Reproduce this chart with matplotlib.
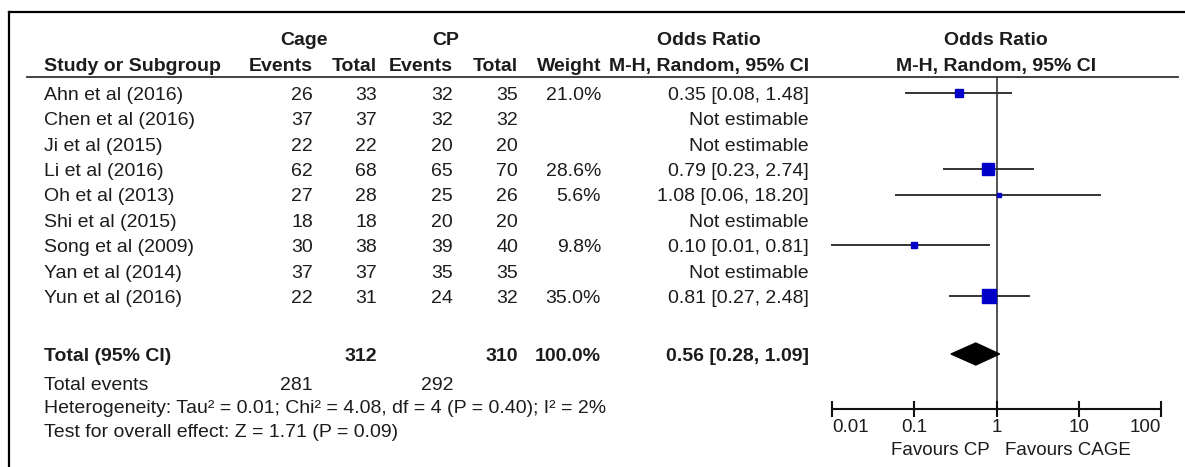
import numpy as np
import matplotlib
matplotlib.use("Agg")
import matplotlib.pyplot as plt
from matplotlib.lines import Line2D
from matplotlib.patches import Polygon

plt.rcParams['font.family'] = ['Liberation Sans', 'DejaVu Sans']

# ---------------- data ----------------
studies = ["Ahn et al (2016)", "Chen et al (2016)", "Ji et al (2015)", "Li et al (2016)",
           "Oh et al (2013)", "Shi et al (2015)", "Song et al (2009)", "Yan et al (2014)",
           "Yun et al (2016)"]
cage_events = [26, 37, 22, 62, 27, 18, 30, 37, 22]
cage_total = [33, 37, 22, 68, 28, 18, 38, 37, 31]
cp_events = [32, 32, 20, 65, 25, 20, 39, 35, 24]
cp_total = [35, 32, 20, 70, 26, 20, 40, 35, 32]
weights = [21.0, None, None, 28.6, 5.6, None, 9.8, None, 35.0]
or_est = [0.35, None, None, 0.79, 1.08, None, 0.10, None, 0.81]
or_lo = [0.08, None, None, 0.23, 0.06, None, 0.01, None, 0.27]
or_hi = [1.48, None, None, 2.74, 18.20, None, 0.81, None, 2.48]

total_cage = 312
total_cp = 310
total_weight = 100.0
total_or = [0.56, 0.28, 1.09]
events_cage = 281
events_cp = 292
heterogeneity = "Heterogeneity: Tau\u00b2 = 0.01; Chi\u00b2 = 4.08, df = 4 (P = 0.40); I\u00b2 = 2%"
overall = "Test for overall effect: Z = 1.71 (P = 0.09)"
x_ticks = [0.01, 0.1, 1, 10, 100]
x_tick_labels = ["0.01", "0.1", "1", "10", "100"]

# ---------------- layout ----------------
W, H = 1185, 467
fig = plt.figure(figsize=(W / 100, H / 100), dpi=100)
fig.patch.set_facecolor('white')

FS = 14.0
TXT = '#1c1c1c'


def fx(px):
    return px / W


def fy(py):
    return 1 - py / H


def put(x, y, s, ha='left', bold=False, color=TXT, fs=FS):
    # y = cap-centre in pixels; place baseline below it
    fig.text(fx(x), fy(y + 6.9), s, ha=ha, va='baseline', fontsize=fs,
             fontweight='bold' if bold else 'normal', color=color)


# frame
fig.add_artist(Line2D([fx(9), fx(1185)], [fy(12), fy(12)], color='black', lw=1.6))
fig.add_artist(Line2D([fx(9), fx(9)], [fy(12), fy(467)], color='black', lw=1.6))
# header underline
fig.add_artist(Line2D([fx(27), fx(1178)], [fy(77), fy(77)], color='#333333', lw=1.3))

# column anchors (right edges)
X_NAME = 44
X_CE, X_CT, X_PE, X_PT, X_W, X_OR = 313, 377, 453, 518, 601, 809
X_C_MID, X_P_MID = 304, 446
X_OR_MID = 709
X_PLOT_MID = 996

Y_H1, Y_H2 = 38, 64
# headers
put(X_C_MID, Y_H1, "Cage", ha='center', bold=True)
put(X_P_MID, Y_H1, "CP", ha='center', bold=True)
put(X_OR_MID, Y_H1, "Odds Ratio", ha='center', bold=True)
put(X_PLOT_MID, Y_H1, "Odds Ratio", ha='center', bold=True)
put(X_NAME, Y_H2, "Study or Subgroup", bold=True)
put(X_CE, Y_H2, "Events", ha='right', bold=True)
put(X_CT, Y_H2, "Total", ha='right', bold=True)
put(X_PE, Y_H2, "Events", ha='right', bold=True)
put(X_PT, Y_H2, "Total", ha='right', bold=True)
put(X_W, Y_H2, "Weight", ha='right', bold=True)
put(X_OR_MID, Y_H2, "M-H, Random, 95% CI", ha='center', bold=True)
put(X_PLOT_MID, Y_H2, "M-H, Random, 95% CI", ha='center', bold=True)

ROW0, DROW = 93, 25.4
row_y = [ROW0 + i * DROW for i in range(len(studies))]

for i, name in enumerate(studies):
    y = row_y[i]
    put(X_NAME, y, name)
    put(X_CE, y, str(cage_events[i]), ha='right')
    put(X_CT, y, str(cage_total[i]), ha='right')
    put(X_PE, y, str(cp_events[i]), ha='right')
    put(X_PT, y, str(cp_total[i]), ha='right')
    if weights[i] is not None:
        put(X_W, y, f"{weights[i]:.1f}%", ha='right')
        put(X_OR, y, f"{or_est[i]:.2f} [{or_lo[i]:.2f}, {or_hi[i]:.2f}]", ha='right')
    else:
        put(X_OR, y, "Not estimable", ha='right')

Y_TOT = 354
put(X_NAME, Y_TOT, "Total (95% CI)", bold=True)
put(X_CT, Y_TOT, str(total_cage), ha='right', bold=True)
put(X_PT, Y_TOT, str(total_cp), ha='right', bold=True)
put(X_W, Y_TOT, f"{total_weight:.1f}%", ha='right', bold=True)
put(X_OR, Y_TOT, f"{total_or[0]:.2f} [{total_or[1]:.2f}, {total_or[2]:.2f}]", ha='right', bold=True)

Y_EV, Y_HET, Y_Z = 383, 406, 430
put(X_NAME, Y_EV, "Total events")
put(X_CE, Y_EV, str(events_cage), ha='right')
put(X_PE, Y_EV, str(events_cp), ha='right')
put(X_NAME, Y_HET, heterogeneity)
put(X_NAME, Y_Z, overall)

# ---------------- forest axes ----------------
AX_L, AX_R = 832, 1161
AX_T, AX_B = 77, 409
ax = fig.add_axes([fx(AX_L), fy(AX_B), (AX_R - AX_L) / W, (AX_B - AX_T) / H])
ax.set_xscale('log')
ax.set_xlim(x_ticks[0], x_ticks[-1])
ax.set_ylim(AX_B, AX_T)
ax.patch.set_alpha(0)
for s in ['left', 'right', 'top']:
    ax.spines[s].set_visible(False)
ax.spines['bottom'].set_linewidth(1.5)
ax.spines['bottom'].set_color('#111111')
ax.set_yticks([])
ax.set_xticks(x_ticks)
ax.set_xticklabels(x_tick_labels, fontsize=13.5, color=TXT)
ax.xaxis.set_minor_locator(matplotlib.ticker.NullLocator())
ax.tick_params(axis='x', direction='inout', length=11, width=1.5, pad=1.5, color='#111111')
labs = ax.get_xticklabels()
labs[0].set_ha('left')
labs[-1].set_ha('right')

ax.axvline(1, color='#444444', lw=1.3, zorder=1)

for i in range(len(studies)):
    if weights[i] is None:
        continue
    y = row_y[i]
    ax.plot([or_lo[i], or_hi[i]], [y, y], color='#333333', lw=1.4, zorder=2, clip_on=False)
    side_px = 2.0 + 0.33 * weights[i]
    ax.plot([or_est[i]], [y], marker='s', ms=side_px * 0.72, color='#0000c8',
            mec='#0000c8', zorder=3, clip_on=False)

half = 11
diamond = Polygon([[total_or[1], Y_TOT], [total_or[0], Y_TOT - half],
                   [total_or[2], Y_TOT], [total_or[0], Y_TOT + half]],
                  closed=True, facecolor='black', edgecolor='black', zorder=4)
ax.add_patch(diamond)

fig.text(fx(990), fy(448 + 6.9), "Favours CP", ha='right', va='baseline', fontsize=13.5, color=TXT)
fig.text(fx(1005), fy(448 + 6.9), "Favours CAGE", ha='left', va='baseline', fontsize=13.5, color=TXT)

fig.savefig("out.png", dpi=100, facecolor='white')
